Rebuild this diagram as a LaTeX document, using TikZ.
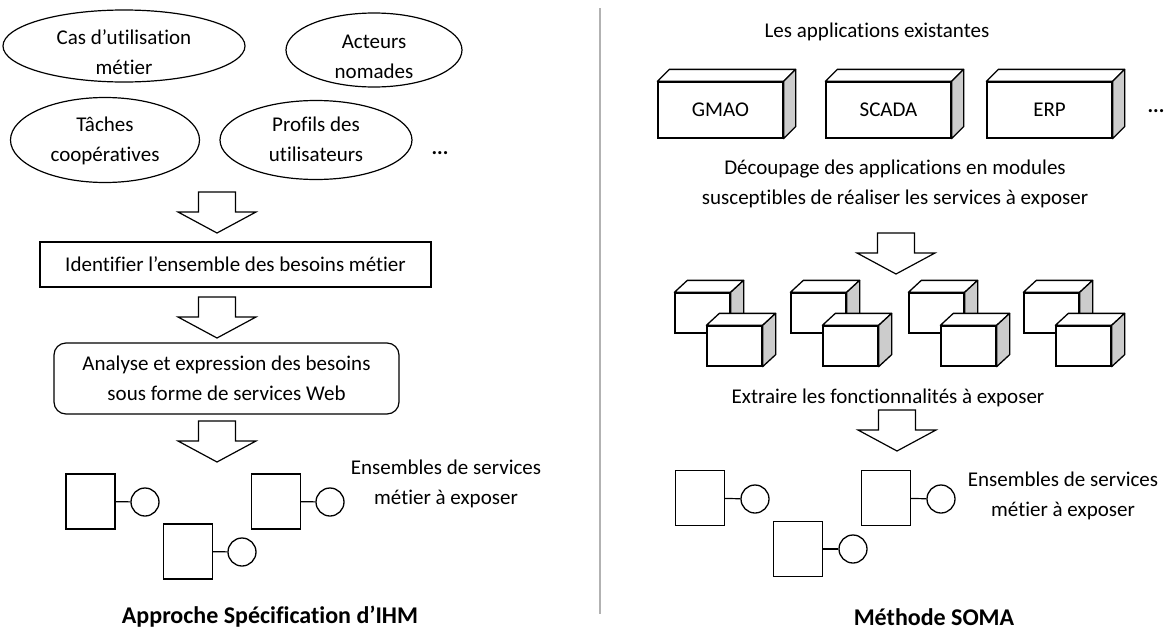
\documentclass[tikz,border=0pt]{standalone}
\usepackage{fontspec}
\setmainfont{Carlito}[Ligatures=NoCommon]
\usetikzlibrary{shapes.geometric}

\tikzset{
  besoin/.style={draw, ellipse, line width=1.2pt, inner sep=0pt},
  etape/.style={draw, line width=1.2pt, inner sep=0pt, align=center},
  appli/.style={draw, fill=white, line width=1.3pt, minimum width=125pt, minimum height=56pt, inner sep=0pt},
  module/.style={draw, fill=white, line width=1.3pt, minimum width=55pt, minimum height=40pt, inner sep=0pt},
  service/.style={draw, line width=1.4pt, minimum width=49pt, minimum height=55pt, inner sep=0pt},
  port/.style={draw, circle, line width=1.3pt, minimum size=28pt, inner sep=0pt},
  fleche/.style={draw, line width=1.2pt, fill=white, line join=miter},
  titre/.style={font=\fontsize{24}{30}\selectfont\bfseries, inner sep=1pt},
}

% fleche creuse vers le bas : pointe en x, haut en y
\newcommand{\blocfleche}[2]{%
  \draw[fleche] (#1-18.5,#2) -- (#1+18.5,#2) -- (#1+18.5,#2+20) -- (#1+39,#2+20)
    -- (#1,#2+41) -- (#1-39,#2+20) -- (#1-18.5,#2+20) -- cycle;}

% faces du dessus et de cote d'une boite
\newcommand{\relief}[3]{%
  \draw[line width=1.3pt, fill=white, line join=round] (#1.north west) -- ++(#2,-#3)
    -- ([shift={(#2,-#3)}]#1.north east) -- (#1.north east) -- cycle;
  \draw[line width=1.3pt, fill=black!20, line join=round] (#1.north east) -- ++(#2,-#3)
    -- ([shift={(#2,-#3)}]#1.south east) -- (#1.south east) -- cycle;}

\begin{document}
\begin{tikzpicture}[x=1pt, y=-1pt, every node/.style={font=\fontsize{21}{30}\selectfont}]
  \useasboundingbox (0,0) rectangle (1168,632);

  % --- Approche Specification d'IHM ---
  \node[besoin, minimum width=242pt, minimum height=72pt] (cas) at (124,46) {};
  \node[align=center] (castxt) at (124,52) {Cas d’utilisation\\métier};
  \node[besoin, minimum width=176pt, minimum height=74pt] (acteurs) at (374,50) {};
  \node[align=center] (acteurstxt) at (374,57) {Acteurs\\nomades};
  \node[besoin, minimum width=189pt, minimum height=85pt] (taches) at (105,140) {};
  \node[align=center] (tachestxt) at (105,141) {Tâches\\coopératives};
  \node[besoin, minimum width=192pt, minimum height=79pt] (profils) at (316,140) {};
  \node[align=center] (profilstxt) at (316,139) {Profils des\\utilisateurs};
  \node (autresG) at (440,153) {\textbf{...}};

  \blocfleche{217}{192}
  \node[etape, minimum width=391pt, minimum height=45pt] (identifier) at (235.5,264.5) {Identifier l’ensemble des besoins métier};
  \blocfleche{217}{297}
  \node[etape, rounded corners=12pt, minimum width=345pt, minimum height=71pt] (analyse) at (226.5,378.5)
    {Analyse et expression des besoins\\sous forme de services Web};
  \blocfleche{217}{421}

  \node[service] (s1) at (90.5,501.5) {};
  \node[port] (c1) at (145,502) {};
  \node[service] (s2) at (188,551.5) {};
  \node[port] (c2) at (242,552) {};
  \node[service] (s3) at (276,501.5) {};
  \node[port] (c3) at (330,502) {};
  \foreach \i in {1,2,3} \draw[line width=1.2pt] (s\i) -- (c\i);
  \node[align=center] (ensG) at (446,484) {Ensembles de services\\métier à exposer};
  \node[titre] (titreG) at (270,617) {Approche Spécification d’IHM};

  % separation
  \draw[black!30, line width=2pt] (600,8) -- (600,614);

  % --- Methode SOMA ---
  \node (existantes) at (877,32) {Les applications existantes};
  \node[appli] (gmao) at (720.5,110) {GMAO};
  \node[appli] (scada) at (888.5,110) {SCADA};
  \node[appli] (erp) at (1049.5,110) {ERP};
  \foreach \n in {gmao,scada,erp} \relief{\n}{12}{12};
  \node (autresD) at (1156,111) {\textbf{...}};
  \node[align=center] (decoupage) at (895,184)
    {Découpage des applications en modules\\susceptibles de réaliser les services à exposer};

  \blocfleche{896}{233}
  \foreach \i/\x in {0/675,1/791,2/909,3/1024} {
    \node[module] (mb\i) at (\x+27.5,313) {};
    \relief{mb\i}{13}{12}
    \node[module] (mf\i) at (\x+59.5,346) {};
    \relief{mf\i}{13}{12}
  }
  \node (extraire) at (888,398) {Extraire les fonctionnalités à exposer};
  \blocfleche{897}{410}

  \node[service] (s4) at (700,498) {};
  \node[port] (c4) at (755,499) {};
  \node[service] (s5) at (798,549) {};
  \node[port] (c5) at (853,549) {};
  \node[service] (s6) at (886,498) {};
  \node[port] (c6) at (941,499) {};
  \foreach \i in {4,5,6} \draw[line width=1.2pt] (s\i) -- (c\i);
  \node[align=center] (ensD) at (1063,496) {Ensembles de services\\métier à exposer};
  \node[titre] (titreD) at (934,617) {Méthode SOMA};
\end{tikzpicture}
\end{document}
